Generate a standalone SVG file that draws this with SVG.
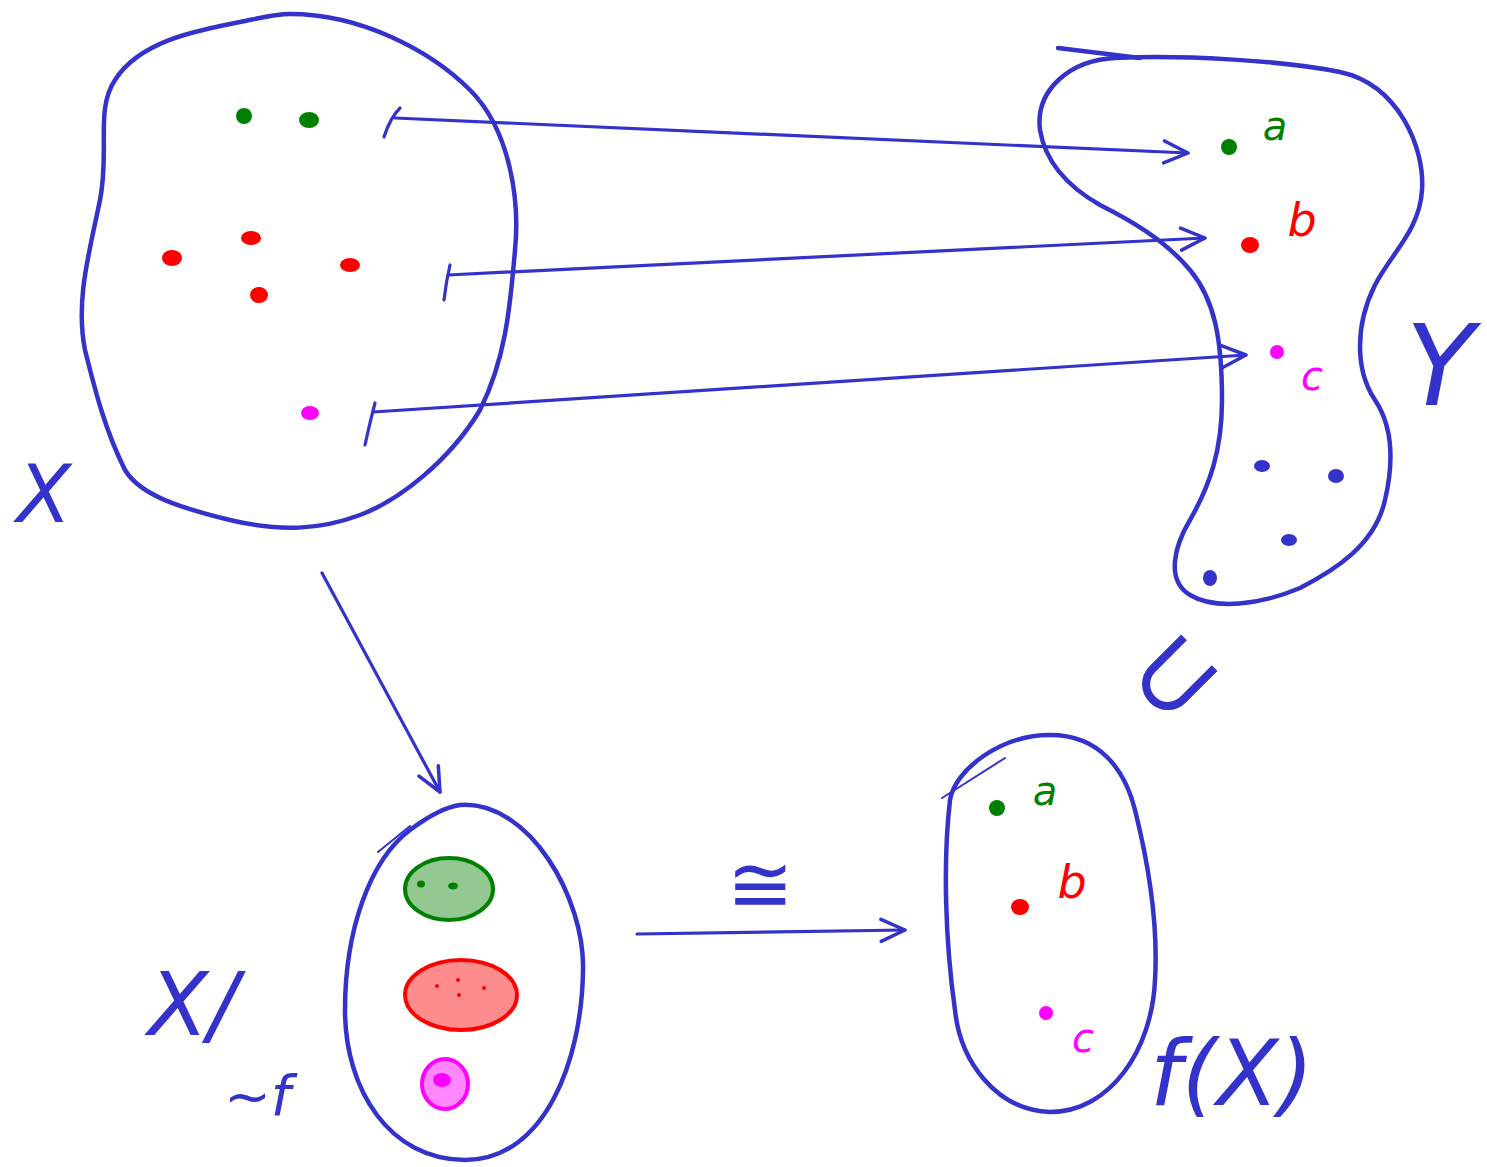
<svg xmlns="http://www.w3.org/2000/svg" width="1487" height="1167" viewBox="0 0 1487 1167">
<style>
.blob{fill:none;stroke:#3333cc;stroke-width:4.5;stroke-linecap:round;stroke-linejoin:round}
.thin{fill:none;stroke:#3333cc;stroke-width:2;stroke-linecap:round}
.arr{fill:none;stroke:#3333cc;stroke-width:3.2;stroke-linecap:round}
.lbl{font-family:"DejaVu Sans","Liberation Sans",sans-serif;fill:#3333cc;font-style:italic}
.g{fill:#008000}.r{fill:#ff0000}.m{fill:#ff00ff}.b{fill:#3333cc}
.pt{font-family:"DejaVu Sans","Liberation Sans",sans-serif;font-style:italic}
</style>
<defs>
<marker id="v" viewBox="0 0 10 10" refX="0" refY="0" markerWidth="10" markerHeight="10" markerUnits="userSpaceOnUse" orient="auto" overflow="visible">
<path d="M-24,-11 L0,0 L-24,11" fill="none" stroke="#3333cc" stroke-width="3.5" stroke-linecap="round" stroke-linejoin="round"/>
</marker>
</defs>
<rect width="1487" height="1167" fill="#ffffff"/>

<g id="setX">
<path class="blob" d="M290 14 C360 14,430 50,470 90 C510 130,520 200,515 250 C510 310,505 360,480 410 C450 460,400 500,360 515 C320 530,280 532,230 520 C180 508,140 495,125 470 C105 430,95 390,85 350 C75 300,90 250,100 200 C110 150,95 110,115 80 C140 40,200 30,240 22 C260 18,275 14,290 14 Z"/>
<ellipse class="g" cx="244" cy="116" rx="8" ry="8"/>
<ellipse class="g" cx="309" cy="120" rx="10" ry="8"/>
<ellipse class="r" cx="172" cy="258" rx="10" ry="8"/>
<ellipse class="r" cx="251" cy="238" rx="10" ry="7"/>
<ellipse class="r" cx="350" cy="265" rx="10" ry="7"/>
<ellipse class="r" cx="259" cy="295" rx="9" ry="8"/>
<ellipse class="m" cx="310" cy="413" rx="9" ry="7"/>
<text class="lbl" x="44" y="522" font-size="80" text-anchor="middle">X</text>
</g>

<g id="setY">
<path class="blob" d="M1040 130 C1035 90,1070 60,1115 58 C1180 55,1280 60,1340 72 C1400 85,1425 150,1422 190 C1420 230,1390 255,1375 285 C1355 325,1355 370,1375 400 C1395 430,1392 470,1385 500 C1375 545,1335 570,1300 588 C1260 605,1215 610,1190 595 C1165 580,1175 545,1190 520 C1210 485,1222 450,1222 400 C1222 340,1215 300,1190 270 C1165 240,1130 220,1100 205 C1065 185,1045 160,1040 130 Z"/>
<path class="blob" d="M1058 48 L1140 58" stroke-width="3"/>
<ellipse class="g" cx="1229" cy="147" rx="8" ry="8"/>
<text class="pt g" x="1275" y="140" font-size="40" text-anchor="middle">a</text>
<ellipse class="r" cx="1250" cy="245" rx="9" ry="8"/>
<text class="pt r" x="1302" y="236" font-size="46" text-anchor="middle">b</text>
<ellipse class="m" cx="1277" cy="352" rx="7" ry="7"/>
<text class="pt m" x="1312" y="390" font-size="40" text-anchor="middle">c</text>
<ellipse class="b" cx="1262" cy="466" rx="8" ry="6"/>
<ellipse class="b" cx="1336" cy="476" rx="8" ry="7"/>
<ellipse class="b" cx="1289" cy="540" rx="8" ry="6"/>
<ellipse class="b" cx="1210" cy="578" rx="7" ry="8"/>
<text class="lbl" x="1440" y="405" font-size="112" text-anchor="middle">Y</text>
</g>

<g id="quotient">
<path class="blob" d="M460 805 C530 800,585 900,583 970 C582 1060,545 1160,465 1160 C390 1160,345 1090,345 1010 C345 930,370 860,410 830 C430 815,445 807,460 805 Z"/>
<path class="thin" d="M378 852 L410 826"/>
<ellipse cx="449" cy="889" rx="44" ry="31" fill="#93c893" stroke="#008000" stroke-width="4"/>
<ellipse class="g" cx="421" cy="884" rx="4" ry="3.5"/>
<ellipse class="g" cx="453" cy="886" rx="5" ry="3.5"/>
<ellipse cx="461" cy="995" rx="56" ry="35" fill="#ff8c8c" stroke="#ff0000" stroke-width="4"/>
<circle class="r" cx="437" cy="986" r="2"/>
<circle class="r" cx="458" cy="980" r="2"/>
<circle class="r" cx="484" cy="988" r="2"/>
<circle class="r" cx="459" cy="995" r="2"/>
<ellipse cx="445" cy="1084" rx="23" ry="25" fill="#ff88ff" stroke="#ff00ff" stroke-width="4"/>
<ellipse class="m" cx="442" cy="1080" rx="9" ry="7"/>
<text class="lbl" x="148" y="1035" font-size="88">X/<tspan font-size="56" dy="80" dx="-14">~f</tspan></text>
</g>

<g id="image">
<path class="blob" d="M1050 735 C1100 735,1125 770,1135 810 C1150 870,1158 930,1155 980 C1152 1050,1110 1112,1050 1112 C995 1110,960 1060,955 1010 C945 940,943 860,950 800 C955 770,1000 735,1050 735 Z"/>
<path class="thin" d="M942 798 L1005 758"/>
<ellipse class="g" cx="997" cy="808" rx="8" ry="8"/>
<text class="pt g" x="1045" y="805" font-size="40" text-anchor="middle">a</text>
<ellipse class="r" cx="1020" cy="907" rx="9" ry="8"/>
<text class="pt r" x="1072" y="898" font-size="46" text-anchor="middle">b</text>
<ellipse class="m" cx="1046" cy="1013" rx="7" ry="7"/>
<text class="pt m" x="1083" y="1052" font-size="40" text-anchor="middle">c</text>
<text class="lbl" x="1150" y="1105" font-size="90">f(X)</text>
</g>

<g id="symbols">
<text class="lbl" x="760" y="912" font-size="80" text-anchor="middle">≅</text>
<text x="0" y="0" font-size="110" text-anchor="middle" font-family="DejaVu Sans, sans-serif" fill="#3333cc" transform="translate(1172,675) rotate(-45)" dy="38">⊂</text>
</g>

<g id="connectors">
<path class="arr" d="M395 118 L1188 153" marker-end="url(#v)"/>
<path class="arr" d="M384 137 Q390 118,400 108"/>
<path class="arr" d="M448 275 L1205 238" marker-end="url(#v)"/>
<path class="arr" d="M444 300 Q446 282,450 265"/>
<path class="arr" d="M373 412 L1246 355" marker-end="url(#v)"/>
<path class="arr" d="M365 445 Q370 422,375 403"/>
<path class="arr" d="M322 573 L440 792" marker-end="url(#v)"/>
<path class="arr" d="M637 934 L905 930" marker-end="url(#v)"/>
</g>
</svg>
